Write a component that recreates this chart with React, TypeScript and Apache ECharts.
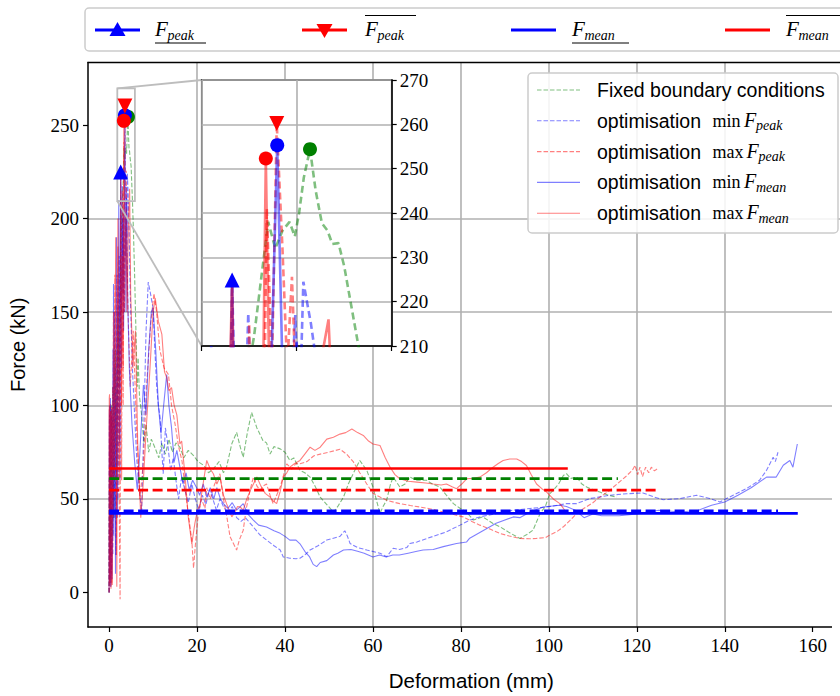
import { useEffect, useRef } from 'react';
import * as echarts from 'echarts';

// ---------- DATA (mm, kN) ----------
const fixedBC: number[][] = [[0,0],[0.08,60],[0.15,80],[0.3,20],[0.5,100],[0.7,30],[0.9,110],[1.1,40],[1.4,130],[1.7,60],[2.0,150],[2.3,110],[2.6,180],[2.9,200],[3.1,212],[3.25,225],[3.4,238],[3.55,232],[3.7,236],[3.85,238],[3.96,234.7],[4.05,240],[4.15,248],[4.28,254.4],[4.4,245],[4.53,237.7],[4.65,236],[4.75,233],[4.88,233.2],[5.0,228],[5.3,210],[5.5,196],[5.8,170],[6.1,140],[6.4,110],[6.6,125.5],[6.9,105],[7.4,95],[7.9,80],[8.4,90],[9,75],[9.6,82],[10.5,77],[11.3,72],[12,80],[12.8,74],[13.6,82],[14.4,75],[15.2,80],[16.1,77.7],[17,72],[18,76],[19.2,73.2],[20.2,70],[21.5,68],[22.6,64],[23.7,66],[25,70],[26,64],[26.7,67],[27.9,79.5],[29,85.6],[29.8,78],[30.5,72.3],[31.4,85],[32.4,96.3],[33.6,88],[35,81.2],[35.8,80],[36.6,74],[37.5,78],[38.9,76.8],[40,75],[41.1,70.6],[42,72],[43.4,65.3],[44.5,64],[45.7,61.7],[46.8,57],[48,51],[49.5,47],[51,43],[52,46],[53.3,51],[54.4,58],[55.5,63.5],[57,70.6],[58.6,65.3],[60,56.4],[61.6,42.2],[62.3,46],[63.1,49.3],[64,58],[64.6,61.7],[66.1,56.4],[67.3,58],[68.4,61.7],[70,60],[72.2,60],[73.5,58],[75.2,56.4],[76.7,52],[78.3,47.5],[79.8,45],[81.3,43],[82.8,38.7],[85,40.4],[87.3,36.9],[88.9,35.1],[91,32],[92.7,29.8],[93.4,28.9],[95,31],[96.4,33.3],[98,42.2],[99.2,46],[100.2,52.8],[101,54.6],[102.2,58],[103.3,62.6],[104,63.5],[105,61],[106.3,61.7],[107.5,58],[108.6,56.4],[110,55],[111.6,53.7],[113.5,52],[115.4,51]];

const minPeak: number[][] = [[0,0],[0.06,90],[0.12,95],[0.18,8],[0.25,5],[0.32,98],[0.4,100],[0.48,10],[0.55,15],[0.62,94],[0.7,90],[0.85,20],[1.0,165],[1.15,40],[1.35,120],[1.55,20],[1.8,170],[2.0,50],[2.3,180],[2.5,60],[2.64,224.9],[2.8,150],[2.98,217.4],[3.15,160],[3.3,205],[3.5,150],[3.68,200],[3.8,180],[3.97,217],[4.05,190],[4.14,224.5],[4.3,215],[4.5,200],[4.8,160],[5.3,120],[5.8,95],[6.3,70.7],[6.9,55],[7.4,43],[7.9,90],[8.4,140],[8.9,166],[9.4,160],[10,152],[10.4,130],[10.8,111],[11.2,100],[11.6,93.6],[12,75],[12.3,63.5],[12.8,88],[13.3,80],[14,65],[14.6,72],[15.2,60],[15.8,50],[16.5,62],[17.2,55],[18,48],[18.8,58],[19.6,50],[20.4,44],[21.2,52],[22,47],[22.8,55],[23.6,50],[24.4,44],[25.2,50],[26,46],[27,42],[28,46],[29,40],[30,38],[31,40],[32.8,35],[34.2,31],[35.8,28],[37.5,25],[38.9,22.7],[39.6,19],[41.1,18.3],[42.5,18],[43.4,18.3],[44.5,20],[45.7,22.7],[47.5,25],[49.5,28],[51,29],[52.5,30],[53.6,33],[54.2,30],[54.8,26.2],[56.5,24],[58.6,22.7],[61.6,21],[63.1,19.1],[64.6,23.6],[66,23],[67.7,24],[68.4,26.2],[70,27],[73.7,30],[76.7,32.4],[79.8,36],[82,38.7],[84.3,40.4],[88.1,42.2],[91.9,44],[95.7,44.9],[99.5,45.7],[104,47.5],[106.3,47.5],[109.3,50.2],[113.9,52],[117.7,52.8],[121.4,53.2],[124,51],[126,49.6],[129.8,50.2],[133.6,52],[136.6,50.2],[138.9,48.4],[141.9,52],[144.9,55.5],[147.9,60],[149.5,65.3],[151,72.3],[151.5,70],[152.1,75]];

const maxPeak: number[][] = [[0,0],[0.05,98],[0.1,4],[0.15,100],[0.2,6],[0.25,96],[0.3,15],[0.35,101],[0.4,3],[0.45,92],[0.5,8],[0.55,97],[0.6,5],[0.7,88],[0.8,110],[1.0,40],[1.3,170],[1.6,20],[2.0,185],[2.25,60],[2.5,-3.7],[2.64,200],[2.85,60],[3.0,215],[3.2,100],[3.37,241],[3.48,205],[3.58,260.2],[3.7,232],[3.8,205],[3.9,225.6],[4.0,195],[4.3,150],[4.8,110],[5.5,140],[6.2,90],[7.0,50],[7.8,70],[8.5,110],[9.5,145],[10.2,160],[10.8,150],[11.5,130],[12.5,120],[13.5,116.6],[14.2,100],[15,90],[15.8,78],[16.6,70],[17.3,55],[18,42],[18.8,28],[19.2,13],[19.6,25],[20.2,40],[21,50],[21.8,45],[22.2,56],[23,50],[24,58],[25.2,63.5],[26,50],[26.8,40],[27.5,29.8],[28.3,26],[29,22.7],[29.6,28],[30.5,33.3],[31.2,45],[32.1,55],[32.8,61.7],[33.6,57],[34.3,54.6],[35.1,57],[35.8,58],[36.6,52],[37.3,47.5],[38.1,52],[38.9,56.4],[39.7,63],[40.4,68.8],[41.5,66],[42.5,69],[43.4,68.8],[45,70],[46.5,73],[48,74],[50,75],[52.5,76.6],[54,74],[55.5,70],[57,64],[58.6,58],[60,53],[61.6,51],[63.5,49],[66.1,47.5],[68.5,46.5],[70.7,45.7],[73.5,44.5],[77,42.5],[80.5,40.4],[82.5,38],[84.3,36],[86.5,34],[88.9,31.5],[91,30.2],[93.4,28.9],[95.5,28.7],[97.2,28.9],[99.2,29.3],[100.2,30.7],[101.8,32.5],[103.3,35.1],[104.8,38.5],[106.3,42.2],[108,45],[110,48],[111.6,51],[113.5,54],[115.5,58],[117.5,62],[119,65.4],[119.6,68],[120.2,63],[120.7,67],[121.3,62],[122,67],[122.7,64],[123.3,67],[124,65],[124.6,66]];

const minMean: number[][] = [[0,0],[0.05,96],[0.1,100],[0.15,6],[0.2,10],[0.25,99],[0.3,104],[0.35,3],[0.45,5],[0.5,93],[0.6,98],[0.68,7],[0.75,20],[0.9,130],[1.05,30],[1.25,150],[1.45,10],[1.7,190],[1.9,40],[2.2,210],[2.4,80],[2.64,224],[2.8,120],[3.1,200],[3.3,140],[3.59,255.3],[3.7,205],[3.85,150],[4.0,211],[4.2,160],[4.6,120],[5.2,90],[5.8,70],[6.4,55],[7,75],[7.8,111],[8.4,95],[9,130],[9.6,150],[10,152],[10.6,130],[11.2,100],[11.8,85],[12.4,100],[13.1,116.6],[13.6,100],[14.2,88],[14.8,70],[15.4,76],[16.1,67],[16.8,58],[17.5,64],[18.2,55],[19,60],[19.9,56],[20.6,52],[21.4,58],[22.2,51],[23,56],[23.8,50],[24.5,56],[25.3,50],[26,47.5],[27,45],[28,48],[29,44],[30.5,47.5],[31.5,42],[32.8,38.7],[34,36],[35.8,35],[37.5,33],[38.9,31.6],[40,30],[41.1,28],[42.5,28],[43.4,26],[44.5,22],[45.6,19],[46.4,15],[47.2,13.8],[48,16],[49.5,17],[51,20],[52,21],[53.3,22.7],[55,23],[56.5,22],[58,21],[60,19],[61.5,20],[63,19],[64.5,20],[66,20],[68,21],[70,22],[71.4,22.7],[73.7,23],[76,24.5],[79,26.2],[81.3,27],[82,29],[85,33],[88,37],[91.9,40.4],[93.4,40],[95.7,43],[98.7,45.7],[102.5,46.6],[104,46],[106,44],[108,40],[110,42],[112,41],[116,41],[120,42],[125,44],[130,43],[134,44],[137,46.6],[140,48.4],[143,52],[146,56],[149.5,61.7],[151.7,61.7],[153.3,68],[154.8,70.6],[155.5,67],[156.5,79.4]];

const maxMean: number[][] = [[0,0],[0.04,104],[0.1,106],[0.14,5],[0.2,20],[0.26,97],[0.35,95],[0.42,2],[0.5,10],[0.57,99],[0.65,90],[0.72,4],[0.8,30],[1.0,150],[1.2,60],[1.5,190],[1.75,3],[2.0,200],[2.3,60],[2.64,225],[2.8,100],[3.0,180],[3.2,120],[3.35,252.3],[3.5,150],[3.8,205],[4.1,150],[4.4,200],[4.67,216],[4.9,160],[5.4,120],[6.0,140],[6.5,80],[7.2,40],[7.8,60],[8.5,90],[9.3,120],[10.0,150],[10.5,157.4],[11.2,145],[12,138],[12.6,118],[13.1,115],[13.6,108],[14.2,109.6],[14.8,100],[15.4,95],[16.1,79.4],[16.5,81],[17.3,61.7],[18,40.4],[18.8,26],[19.5,36.9],[20.1,44],[20.7,47.5],[21.5,60],[22.2,70.6],[23,66],[23.7,63.5],[24.5,58],[25.2,61.7],[26,52],[26.7,47.5],[27.3,44],[27.9,40.4],[28.6,43],[29.2,46],[29.8,45.7],[30.5,44],[31.3,50],[32.2,55],[33.6,61.7],[34.5,57],[35.5,53],[36.6,51],[37.3,49],[38.1,47.5],[38.9,54],[39.6,61.7],[40.4,64],[41.1,67],[42.2,69],[43.4,70.6],[44.5,74],[45.7,77.7],[46.8,76],[48,77.7],[49.5,82],[51,83],[52.5,84.7],[53.8,85.5],[55.2,87.4],[56.5,85.5],[57.8,84],[59,81],[60,79.4],[61.6,78.6],[62.8,72],[63.9,67],[65,63],[66.1,60.8],[68,59.5],[70,59],[72,58.5],[73.7,58],[75.5,57.5],[76.7,58],[78,56.5],[79,55.5],[80.2,58],[81.3,60.8],[82.8,61],[84.3,61.7],[85.8,64],[87.3,67],[88.5,69],[89.6,70.6],[91.1,71.4],[92.7,71.4],[93.8,70],[94.9,67.9],[96,63],[97.2,58],[98.4,55.5],[99.5,53.7],[101,50],[102.5,47.5],[103.3,45],[104,42.2]];

// mean forces [value, end deformation]
const meanFixedBC = [60.9, 115.7];
const meanMinPeak = [43.7, 152.1];
const meanMaxPeak = [54.7, 124.6];
const meanMinMean = [42.3, 156.6];
const meanMaxMean = [66.3, 104.3];

// peak markers
const peakMinPeak = [2.64, 224.9];
const peakMaxPeak = [3.58, 260.2];
const peakCircleMinMean = [3.59, 255.3];
const peakCircleMaxMean = [3.35, 252.3];
const peakCircleFixed = [4.28, 254.4];

const xTicks = [0, 20, 40, 60, 80, 100, 120, 140, 160];
const yTicks = [0, 50, 100, 150, 200, 250];

const GREEN = '#008000';
const BLUE = '#0000ff';
const RED = '#ff0000';
const SERIF = '"Liberation Serif", "DejaVu Serif", serif';
const SANS = '"Liberation Sans", "DejaVu Sans", sans-serif';

function curve(name: string, data: number[][], color: string, dashed: boolean, g: number) {
  return {
    type: 'line', name, data, xAxisIndex: g, yAxisIndex: g,
    showSymbol: false, symbol: 'none', silent: true, z: g ? 12 : 2,
    lineStyle: { color, width: g ? 2.6 : 1.1, opacity: 0.5, type: dashed ? (g ? [7, 4] : [4.5, 2]) : 'solid' },
  };
}
function meanLine(m: number[], color: string, dashed: boolean) {
  return {
    type: 'line', data: [[0, m[0]], [m[1], m[0]]], showSymbol: false, symbol: 'none', silent: true, z: 4,
    lineStyle: { color, width: 2.6, type: dashed ? [10, 4.5] : 'solid' },
  };
}
function markers(g: number) {
  const base = { type: 'scatter', xAxisIndex: g, yAxisIndex: g, silent: true, z: g ? 14 : 6 };
  return [
    { ...base, data: [peakCircleFixed], symbol: 'circle', symbolSize: 14, itemStyle: { color: GREEN, opacity: 1 } },
    { ...base, data: [peakCircleMinMean], symbol: 'circle', symbolSize: 14, itemStyle: { color: BLUE, opacity: 1 } },
    { ...base, data: [peakMaxPeak], symbol: 'triangle', symbolRotate: 180, symbolSize: 15, itemStyle: { color: RED, opacity: 1 } },
    { ...base, data: [peakCircleMaxMean], symbol: 'circle', symbolSize: 14, itemStyle: { color: RED, opacity: 1 } },
    { ...base, data: [peakMinPeak], symbol: 'triangle', symbolSize: 15, itemStyle: { color: BLUE, opacity: 1 } },
  ];
}

function legendGraphics() {
  const els: any[] = [];
  // cover for a stray vertical rule near the right edge of the picture
  els.push({ type: 'rect', z: 29, shape: { x: 832, y: 64, width: 40, height: 8 }, style: { fill: '#fff' } });
  els.push({ type: 'rect', z: 29, shape: { x: 832, y: 234.5, width: 40, height: 395 }, style: { fill: '#fff' } });
  // top spine of the main axes (right spine lies outside the picture)
  els.push({ type: 'line', z: 5, shape: { x1: 87.5, y1: 62.5, x2: 860, y2: 62.5 }, style: { stroke: '#000', lineWidth: 1.5 } });
  // top legend
  els.push({ type: 'rect', z: 30, shape: { x: 85, y: 8, width: 780, height: 43, r: 4 }, style: { fill: 'rgba(255,255,255,0.8)', stroke: '#cccccc', lineWidth: 1.5 } });
  const topItems = [
    { x0: 95, color: BLUE, mark: 'up', tx: 155, sub: 'peak', deco: 'under' },
    { x0: 302, color: RED, mark: 'down', tx: 365, sub: 'peak', deco: 'over' },
    { x0: 511, color: BLUE, mark: '', tx: 572, sub: 'mean', deco: 'under' },
    { x0: 725, color: RED, mark: '', tx: 786, sub: 'mean', deco: 'over' },
  ];
  topItems.forEach((it) => {
    const cy = 30;
    els.push({ type: 'line', z: 31, shape: { x1: it.x0, y1: cy, x2: it.x0 + 45, y2: cy }, style: { stroke: it.color, lineWidth: 3 } });
    const cx = it.x0 + 22.5;
    if (it.mark === 'up') els.push({ type: 'polygon', z: 32, shape: { points: [[cx, cy - 8], [cx + 8, cy + 6], [cx - 8, cy + 6]] }, style: { fill: it.color } });
    if (it.mark === 'down') els.push({ type: 'polygon', z: 32, shape: { points: [[cx - 8, cy - 6], [cx + 8, cy - 6], [cx, cy + 8]] }, style: { fill: it.color } });
    els.push({ type: 'text', z: 32, x: it.tx, y: 29, style: { text: 'F', fill: '#000', fontSize: 21, fontStyle: 'italic', fontFamily: SERIF, textAlign: 'left', textVerticalAlign: 'middle' } });
    els.push({ type: 'text', z: 32, x: it.tx + 12.5, y: 35, style: { text: it.sub, fill: '#000', fontSize: 14, fontStyle: 'italic', fontFamily: SERIF, textAlign: 'left', textVerticalAlign: 'middle' } });
    const w = it.sub === 'peak' ? 51 : 57;
    const ly = it.deco === 'under' ? 43 : 15.5;
    els.push({ type: 'line', z: 32, shape: { x1: it.tx, y1: ly, x2: it.tx + w, y2: ly }, style: { stroke: '#000', lineWidth: 1 } });
  });
  // series legend inside the plot
  els.push({ type: 'rect', z: 30, shape: { x: 528, y: 73, width: 310, height: 160, r: 4 }, style: { fill: 'rgba(255,255,255,0.85)', stroke: '#cccccc', lineWidth: 1.5 } });
  const rows = [
    { y: 90, color: GREEN, dashed: true, label: 'Fixed boundary conditions' },
    { y: 120.8, color: BLUE, dashed: true, label: 'optimisation', op: 'min', sub: 'peak' },
    { y: 151.6, color: RED, dashed: true, label: 'optimisation', op: 'max', sub: 'peak' },
    { y: 182.4, color: BLUE, dashed: false, label: 'optimisation', op: 'min', sub: 'mean' },
    { y: 213.2, color: RED, dashed: false, label: 'optimisation', op: 'max', sub: 'mean' },
  ];
  rows.forEach((r) => {
    els.push({ type: 'line', z: 31, shape: { x1: 537, y1: r.y, x2: 580, y2: r.y }, style: { stroke: r.color, lineWidth: 1.1, opacity: 0.5, lineDash: r.dashed ? [4.5, 2] : null } });
    els.push({ type: 'text', z: 32, x: 597, y: r.y, style: { text: r.label, fill: '#000', fontSize: 19.5, fontFamily: SANS, textAlign: 'left', textVerticalAlign: 'middle' } });
    if (r.op) {
      const fx = r.op === 'min' ? 744 : 746.5;
      els.push({ type: 'text', z: 32, x: 712.5, y: r.y, style: { text: r.op, fill: '#000', fontSize: 18, fontFamily: SERIF, textAlign: 'left', textVerticalAlign: 'middle' } });
      els.push({ type: 'text', z: 32, x: fx, y: r.y - 1, style: { text: 'F', fill: '#000', fontSize: 20, fontStyle: 'italic', fontFamily: SERIF, textAlign: 'left', textVerticalAlign: 'middle' } });
      els.push({ type: 'text', z: 32, x: fx + 12, y: r.y + 5, style: { text: r.sub, fill: '#000', fontSize: 14, fontStyle: 'italic', fontFamily: SERIF, textAlign: 'left', textVerticalAlign: 'middle' } });
    }
  });
  // zoom indicator and connectors
  els.push({ type: 'rect', z: 3, shape: { x: 117.3, y: 88.3, width: 17.6, height: 112.8 }, style: { fill: 'none', stroke: '#bdbdbd', lineWidth: 1.8 } });
  els.push({ type: 'line', z: 3, shape: { x1: 117.3, y1: 88.3, x2: 201.7, y2: 80 }, style: { stroke: '#bdbdbd', lineWidth: 1.8 } });
  els.push({ type: 'line', z: 3, shape: { x1: 117.3, y1: 201.1, x2: 201.7, y2: 346 }, style: { stroke: '#bdbdbd', lineWidth: 1.8 } });
  return els;
}

export default function App() {
  const ref = useRef<HTMLDivElement>(null);
  useEffect(() => {
    const chart = echarts.init(ref.current!, null, { renderer: 'svg' });
    const axisLine = { show: true, onZero: false, lineStyle: { color: '#000', width: 1.5 } };
    const tick = { show: true, length: 5, inside: false, lineStyle: { color: '#000', width: 1.2 } };
    const split = { show: true, lineStyle: { color: '#b0b0b0', width: 1.6 } };
    const mainSplit = { ...split, showMinLine: false, showMaxLine: false };
    const label = { color: '#000', fontSize: 19, fontFamily: SERIF };
    const option: any = {
      animation: false,
      backgroundColor: '#fff',
      grid: [
        { left: 87.5, top: 62.5, width: 767, height: 568, show: false },
        { left: 201.7, top: 80, width: 190, height: 266, show: true, borderColor: '#000', borderWidth: 1.5, backgroundColor: '#fff', z: 10 },
      ],
      xAxis: [
        {
          type: 'value', gridIndex: 0, min: -4.8, max: 169.5,
          axisLine, axisTick: { ...tick, customValues: xTicks }, splitLine: mainSplit,
          axisLabel: { ...label, margin: 9, customValues: xTicks },
          name: 'Deformation (mm)', nameLocation: 'middle', nameGap: 43,
          nameTextStyle: { color: '#000', fontSize: 20.5, fontFamily: SANS },
        },
        {
          type: 'value', gridIndex: 1, min: 2, max: 6, interval: 2, z: 11,
          axisLine, axisTick: tick, splitLine: split, axisLabel: { show: false },
        },
      ],
      yAxis: [
        {
          type: 'value', gridIndex: 0, min: -18.5, max: 283.5,
          axisLine, axisTick: { ...tick, customValues: yTicks }, splitLine: mainSplit,
          axisLabel: { ...label, margin: 9, customValues: yTicks },
          name: 'Force (kN)', nameLocation: 'middle', nameGap: 60, nameRotate: 90,
          nameTextStyle: { color: '#000', fontSize: 20, fontFamily: SANS },
        },
        {
          type: 'value', gridIndex: 1, position: 'right', min: 210, max: 270, interval: 10, z: 11,
          axisLine, axisTick: tick, splitLine: split, axisLabel: { ...label, margin: 8 },
        },
      ],
      series: [
        curve('Fixed boundary conditions', fixedBC, GREEN, true, 0),
        curve('optimisation min F_peak', minPeak, BLUE, true, 0),
        curve('optimisation max F_peak', maxPeak, RED, true, 0),
        curve('optimisation min F_mean', minMean, BLUE, false, 0),
        curve('optimisation max F_mean', maxMean, RED, false, 0),
        meanLine(meanMaxMean, RED, false),
        meanLine(meanFixedBC, GREEN, true),
        meanLine(meanMaxPeak, RED, true),
        meanLine(meanMinPeak, BLUE, true),
        meanLine(meanMinMean, BLUE, false),
        ...markers(0),
        curve('inset fixed', fixedBC, GREEN, true, 1),
        curve('inset min peak', minPeak, BLUE, true, 1),
        curve('inset max peak', maxPeak, RED, true, 1),
        curve('inset min mean', minMean, BLUE, false, 1),
        curve('inset max mean', maxMean, RED, false, 1),
        ...markers(1),
      ],
      graphic: { elements: legendGraphics() },
    };
    chart.setOption(option);
    return () => chart.dispose();
  }, []);
  return <div ref={ref} style={{ position: 'fixed', left: 0, top: 0, width: 860, height: 696, background: '#fff' }} />;
}
